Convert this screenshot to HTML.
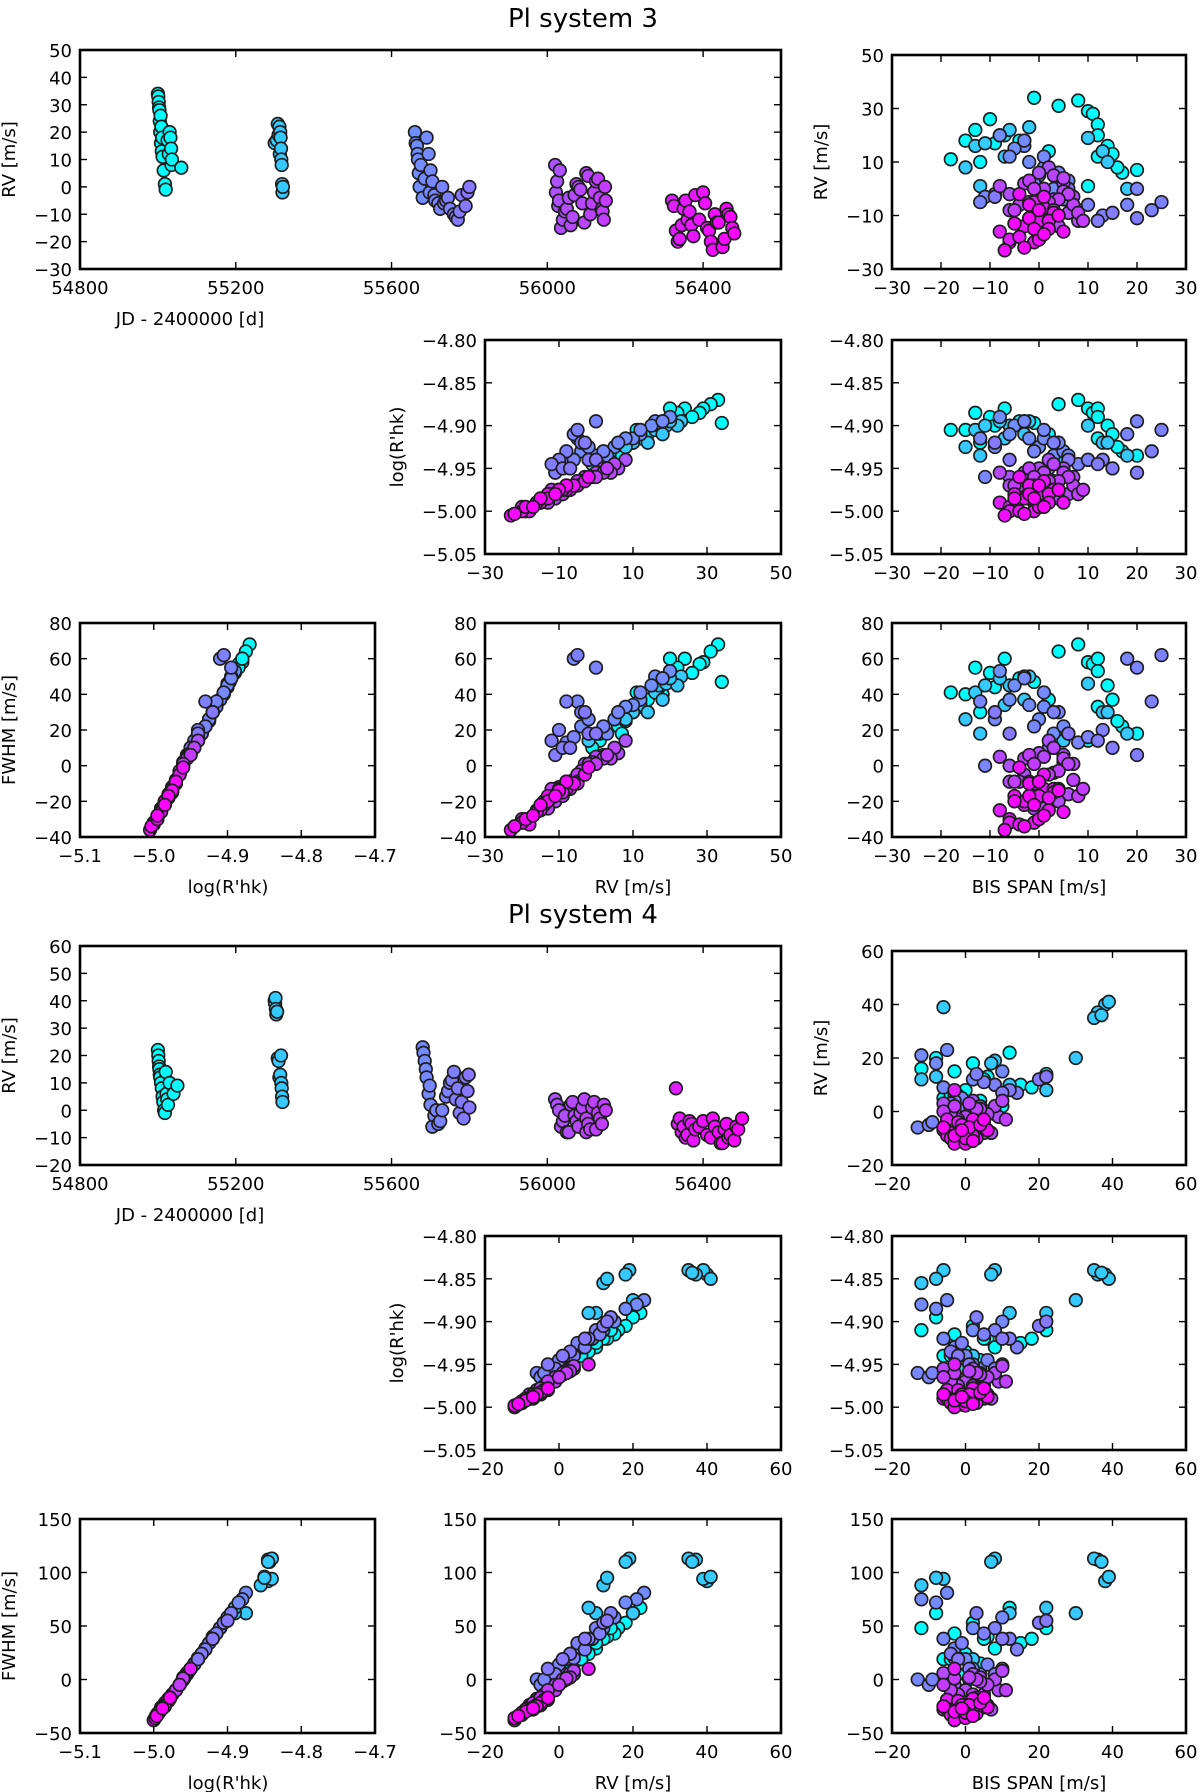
<!DOCTYPE html>
<html><head><meta charset="utf-8"><title>PI systems</title>
<style>
html,body{margin:0;padding:0;background:#fff;}
svg{display:block;font-family:"DejaVu Sans","Liberation Sans",sans-serif;}
</style></head>
<body>
<svg id="fig" width="1200" height="1792" viewBox="0 0 1200 1792" xmlns="http://www.w3.org/2000/svg">
<rect x="0" y="0" width="1200" height="1792" fill="#fff"/>
</svg>
<script>
// ===== System 3 data =====
const t3 = [55000,55002,55004,55005,55006,55008,55010,55012,55015,55018,55020,55030,55032,55034,55036,55060,
  55300,55305,55312,55314,55315,55316,55317,55318,55319,55320,
  55660,55665,55668,55670,55672,55680,55690,55695,55700,55705,55710,55720,55730,55740,55750,55760,55770,55780,55790,55800,
  56020,56025,56030,56040,56050,56060,56070,56080,56090,56100,56110,56120,56130,56140,56145,56150,56035,56105,
  56320,56330,56340,56350,56360,56370,56380,56400,56410,56420,56430,56440,56450,56460,56470,56480];
const rv3 = [34,31,28,24,20,16,13,11,6,1,-1,20,18,14,10,7,
  16,17,22,20,18,14,10,8,1,-2,
  20,15,10,5,0,-4,18,12,6,2,-3,-6,0,-5,-8,-10,-12,-3,-7,0,
  8,2,-5,-12,-8,-14,-3,0,-6,5,-10,-2,3,-8,-12,-5,-15,4,
  -5,-16,-19,-8,-12,-14,-3,-2,-15,-20,-10,-13,-22,-8,-11,-17];
const bis3 = [-1,4,11,12,12,14,15,-18,17,10,3,-7,-4,2,-12,20,
  -13,-11,-6,-8,-3,13,14,-15,-12,5,
  -8,-5,-2,0,3,5,-3,1,4,-1,-11,18,20,25,23,13,12,-9,2,6,
  2,5,-3,8,-6,4,7,1,-4,3,0,6,-2,-5,9,2,-1,5,
  -2,-8,-6,3,0,-3,1,-4,2,-1,4,-5,-3,0,-2,1];
const rhk3 = [-4.897,-4.875,-4.885,-4.88,-4.89,-4.90,-4.91,-4.905,-4.93,-4.94,-4.945,-4.88,-4.895,-4.91,-4.92,-4.935,
  -4.905,-4.90,-4.90,-4.895,-4.91,-4.92,-4.92,-4.925,-4.935,-4.94,
  -4.89,-4.90,-4.915,-4.925,-4.935,-4.93,-4.895,-4.905,-4.92,-4.93,-4.96,-4.91,-4.895,-4.905,-4.93,-4.94,-4.945,-4.92,-4.95,-4.94,
  -4.94,-4.95,-4.965,-4.98,-4.97,-4.985,-4.96,-4.955,-4.97,-4.945,-4.975,-4.96,-4.95,-4.97,-4.975,-4.965,-4.99,-4.955,
  -4.97,-4.99,-5.00,-4.975,-4.98,-4.985,-4.965,-4.96,-4.99,-5.0,-4.975,-4.985,-5.003,-4.97,-4.98,-4.995];
const fwhm3 = [47,64,57,60,53,45,37,41,22,14,10,60,49,37,30,18,
  41,45,45,49,37,30,30,26,18,14,
  53,45,34,26,18,22,49,41,30,22,0,60,55,62,36,20,14,30,10,18,
  14,6,-5,-17,-9,-20,1,5,-9,10,-12,1,6,-9,-13,-5,-24,4,
  -9,-25,-32,-13,-17,-20,-5,-1,-25,-32,-13,-20,-34,-9,-17,-28];
// additional system 3 observations
const t3b = [55001,55003,55007,55009,55011,55025,55028,55035,
  55308,55310,55313,55321,
  55662,55667,55675,55685,55698,55712,55725,55735,55745,55765,55775,55795,
  56022,56028,56045,56055,56065,56075,56085,56095,56115,56125,56135,56142,56148,56032,
  56325,56335,56345,56355,56365,56375,56390,56405,56415,56425,56435,56455,56465,56475];
const rv3b = [33,29,26,22,18,17,12,8,
  23,19,12,0,
  16,12,8,3,-2,-5,-8,-6,-4,-11,-9,-2,
  -2,-7,-9,-4,-11,1,-1,-13,-6,2,-4,-9,0,6,
  -7,-20,-14,-5,-9,-18,-12,-6,-16,-23,-13,-19,-10,-15];
const bis3b = [8,10,-10,-13,-15,-9,12,16,
  -2,10,-7,18,
  -3,-6,1,6,-9,-12,8,10,3,20,15,-6,
  -6,0,6,3,-2,-8,5,1,7,-3,4,8,-1,0,
  1,-6,-3,-1,3,-4,2,-2,5,-7,-5,0,4,-1];
const rhk3b = [-4.87,-4.88,-4.89,-4.885,-4.905,-4.90,-4.915,-4.925,
  -4.895,-4.90,-4.915,-4.935,
  -4.895,-4.91,-4.915,-4.935,-4.925,-4.915,-4.945,-4.94,-4.92,-4.955,-4.95,-4.94,
  -4.96,-4.975,-4.98,-4.965,-4.985,-4.955,-4.96,-4.99,-4.97,-4.955,-4.965,-4.98,-4.96,-4.95,
  -4.975,-4.995,-4.985,-4.97,-4.975,-5.0,-4.98,-4.97,-4.99,-5.005,-4.98,-4.995,-4.975,-4.985];
const fwhm3b = [68,58,52,55,40,44,33,25,
  50,46,34,18,
  50,37,33,18,26,36,13,16,30,6,10,18,
  0,-12,-16,-4,-20,5,2,-24,-8,4,-3,-17,1,7,
  -13,-30,-22,-10,-15,-33,-18,-10,-26,-36,-17,-30,-14,-22];

// ===== System 4 data =====
const t4 = [55000,55002,55004,55006,55008,55010,55012,55014,55016,55018,55020,55030,55040,55050,
  55300,55302,55304,55306,55308,55310,55312,55314,55316,55318,55319,55320,
  55680,55685,55690,55695,55700,55710,55720,55730,55740,55750,55760,55770,55780,55785,55790,55795,55800,55705,
  56020,56030,56040,56050,56060,56070,56080,56090,56100,56110,56120,56130,56140,56150,56055,56095,
  56330,56340,56350,56360,56370,56380,56400,56420,56430,56440,56450,56460,56470,56480,56490,56500];
const rv4 = [22,18,15,12,10,8,5,3,0,-1,14,10,6,9,
  40,41,35,36,19,18,12,13,20,8,5,3,
  23,18,12,6,2,-2,-5,0,5,10,14,8,3,-3,12,7,1,-6,
  4,0,-4,-8,2,-2,-6,1,-3,-7,3,-1,-5,0,-8,4,
  8,-3,-6,-9,-5,-7,-4,-10,-6,-8,-12,-5,-9,-11,-7,-3];
const bis4 = [12,2,-3,5,8,0,-6,3,-2,1,22,15,-4,18,
  38,39,35,37,8,7,-12,-8,30,22,-3,2,
  -5,-8,2,-3,0,4,-10,6,-1,8,3,12,-4,1,20,10,-2,-13,
  2,-3,5,-1,8,0,-5,4,-2,6,1,-4,3,-6,7,10,
  -3,-5,0,2,-1,-6,3,-4,1,-2,0,4,-3,2,-1,5];
const rhk4 = [-4.89,-4.905,-4.915,-4.92,-4.93,-4.935,-4.94,-4.95,-4.955,-4.96,-4.91,-4.925,-4.94,-4.92,
  -4.845,-4.85,-4.84,-4.843,-4.84,-4.845,-4.855,-4.85,-4.875,-4.89,-4.93,-4.94,
  -4.875,-4.885,-4.91,-4.93,-4.94,-4.955,-4.965,-4.945,-4.925,-4.91,-4.895,-4.92,-4.935,-4.95,-4.905,-4.92,-4.94,-4.96,
  -4.955,-4.965,-4.975,-4.985,-4.96,-4.97,-4.98,-4.962,-4.975,-4.985,-4.958,-4.97,-4.978,-4.965,-4.99,-4.952,
  -4.95,-4.98,-4.985,-4.99,-4.985,-4.99,-4.98,-4.995,-4.985,-4.99,-4.998,-4.983,-4.992,-4.996,-4.988,-4.978];
const fwhm4 = [67,53,43,38,29,24,19,10,5,0,48,34,19,38,
  92,96,113,110,113,110,88,95,62,67,29,19,
  81,72,48,29,19,5,-5,14,34,48,62,38,24,10,53,38,19,0,
  5,-5,-14,-24,0,-10,-19,-2,-14,-24,2,-10,-17,-5,-28,8,
  10,-19,-24,-28,-24,-28,-19,-33,-24,-28,-36,-22,-30,-34,-27,-17];
// additional system 4 observations
const t4b = [55001,55003,55005,55022,55024,55026,
  55301,55303,55317,
  55682,55688,55698,55715,55725,55745,55755,55765,55775,55798,
  56025,56035,56045,56065,56075,56085,56105,56115,56125,56135,56145,56100,
  56335,56345,56355,56365,56375,56390,56410,56425,56445,56455,56465,56485];
const rv4b = [20,16,13,6,4,2,
  39,37,10,
  21,15,9,0,-4,7,11,4,-1,13,
  2,-6,-2,3,-4,-1,-5,1,-7,-3,2,-8,
  -5,-8,-10,-4,-11,-6,-9,-3,-12,-7,-10,-6];
const bis4b = [-8,-12,6,-2,4,10,
  -6,36,12,
  -12,10,-6,2,-9,14,5,-3,8,22,
  4,-2,9,-6,2,6,-4,3,0,11,-3,5,
  1,-4,3,-2,-1,5,-5,2,-3,6,0,-6];
const rhk4b = [-4.895,-4.91,-4.92,-4.94,-4.945,-4.95,
  -4.84,-4.845,-4.89,
  -4.88,-4.90,-4.92,-4.95,-4.96,-4.93,-4.915,-4.94,-4.955,-4.90,
  -4.96,-4.98,-4.97,-4.955,-4.975,-4.965,-4.98,-4.96,-4.985,-4.97,-4.96,-4.99,
  -4.985,-4.99,-4.995,-4.98,-4.997,-4.985,-4.99,-4.978,-5.0,-4.988,-4.993,-4.985];
const fwhm4b = [62,48,40,20,15,10,
  94,112,62,
  75,58,38,10,0,28,43,20,5,55,
  2,-18,-10,6,-14,-5,-18,0,-22,-10,1,-26,
  -24,-28,-32,-20,-34,-25,-28,-18,-38,-26,-31,-25];

// ===== tick values =====
const ticksJD = [54800,55200,55600,56000,56400];
const ticksJDminor = [54800,55200,55600,56000,56400,56600];
const ticksRV3time = [-30,-20,-10,0,10,20,30,40,50];
const ticksRV3 = [-30,-10,10,30,50];
const ticksBIS3 = [-30,-20,-10,0,10,20,30];
const ticksRHK = [-5.05,-5.00,-4.95,-4.90,-4.85,-4.80];
const ticksRHKx = [-5.1,-5.0,-4.9,-4.8,-4.7];
const ticksFWHM3 = [-40,-20,0,20,40,60,80];
const ticksRV4time = [-20,-10,0,10,20,30,40,50,60];
const ticksS4 = [-20,0,20,40,60];
const ticksFWHM4 = [-50,0,50,100,150];

const NS = 'http://www.w3.org/2000/svg';
const svg = document.getElementById('fig');
function mk(tag, attrs, parent){
  const e = document.createElementNS(NS, tag);
  for (const k in attrs) e.setAttribute(k, attrs[k]);
  (parent||svg).appendChild(e);
  return e;
}
function fmt(v, dec){
  const s = Math.abs(v).toFixed(dec);
  return (v < 0 ? '\u2212' : '') + s;
}
function cool(t){
  let c = (t - 55000) / 1500; c = Math.max(0, Math.min(1, c));
  return 'rgb(' + Math.round(c*255) + ',' + Math.round((1-c)*255) + ',255)';
}

function panel(p){
  const g = mk('g', {});
  
  
  const sx = v => p.x0 + (v - p.xmin) / (p.xmax - p.xmin) * (p.x1 - p.x0);
  const sy = v => p.y1 - (v - p.ymin) / (p.ymax - p.ymin) * (p.y1 - p.y0);
  const pg = mk('g', {}, g);
  
  
  const idx = p.xs.map((_, i) => i).sort((a, b) => p.ts[a] - p.ts[b]);
  idx.forEach(i => {
    const c = mk('circle', {cx: sx(p.xs[i]).toFixed(1), cy: sy(p.ys[i]).toFixed(1), r: 6.3,
      fill: cool(p.ts[i]), stroke: '#1e1e1e', 'stroke-width': 1.7}, pg);
    
    
  });
  const tg = mk('g', {stroke: '#000', 'stroke-width': 1.4}, g);
  
  
  const L = 7;
  p.xt.forEach(v => {
    const x = sx(v);
    mk('line', {x1: x, x2: x, y1: p.y1, y2: p.y1 - L}, tg);
    mk('line', {x1: x, x2: x, y1: p.y0, y2: p.y0 + L}, tg);
  });
  p.yt.forEach(v => {
    const y = sy(v);
    mk('line', {x1: p.x0, x2: p.x0 + L, y1: y, y2: y}, tg);
    mk('line', {x1: p.x1, x2: p.x1 - L, y1: y, y2: y}, tg);
  });
  const fr = mk('rect', {x: p.x0, y: p.y0, width: p.x1 - p.x0, height: p.y1 - p.y0, fill: 'none', stroke: '#000', 'stroke-width': 2.6}, g);
  
  
  p.xl.forEach(v => {
    const tx = mk('text', {x: sx(v), y: p.y1 + 25, 'text-anchor': 'middle', 'font-size': 18, fill: '#000'}, g);
    
    
    tx.textContent = fmt(v, p.xdec);
  });
  p.yl.forEach(v => {
    const tx = mk('text', {x: p.x0 - 8, y: sy(v) + 7, 'text-anchor': 'end', 'font-size': 18, fill: '#000'}, g);
    
    
    tx.textContent = fmt(v, p.ydec);
  });
  if (p.xlabel){
    const tx = mk('text', {x: p.xlabX, y: p.y1 + 56, 'text-anchor': 'middle', 'font-size': 18, fill: '#000'}, g);
    
    
    tx.textContent = p.xlabel;
  }
  if (p.ylabel){
    const cy = (p.y0 + p.y1) / 2;
    const tx = mk('text', {x: p.ylabX, y: cy, 'text-anchor': 'middle', 'font-size': 18, fill: '#000',
      transform: 'rotate(-90 ' + p.ylabX + ' ' + cy + ')'}, g);
    
    
    tx.textContent = p.ylabel;
  }
}

function system(off, num, D){
  const title = mk('text', {x: 583, y: 27 + off, 'text-anchor': 'middle', 'font-size': 26, fill: '#000'});
  
  
  title.textContent = 'Pl system ' + num;
  const s3 = num === 3;
  panel({name: 's' + num + '-rv-time', x0: 80, x1: 781, y0: 50 + off, y1: 269 + off,
    xmin: 54800, xmax: 56600, ymin: s3 ? -30 : -20, ymax: s3 ? 50 : 60,
    xs: D.t, ys: D.rv, ts: D.t, xt: ticksJDminor, yt: s3 ? ticksRV3time : ticksRV4time,
    xl: ticksJD, yl: s3 ? ticksRV3time : ticksRV4time, xdec: 0, ydec: 0,
    xlabel: 'JD - 2400000 [d]', xlabX: 190, ylabel: 'RV [m/s]', ylabX: 15});
  panel({name: 's' + num + '-rv-bis', x0: 892, x1: 1186, y0: 55 + off, y1: 269 + off,
    xmin: s3 ? -30 : -20, xmax: s3 ? 30 : 60, ymin: s3 ? -30 : -20, ymax: s3 ? 50 : 60,
    xs: D.bis, ys: D.rv, ts: D.t, xt: s3 ? ticksBIS3 : ticksS4, yt: s3 ? ticksRV3 : ticksS4,
    xl: s3 ? ticksBIS3 : ticksS4, yl: s3 ? ticksRV3 : ticksS4, xdec: 0, ydec: 0,
    ylabel: 'RV [m/s]', ylabX: 827});
  panel({name: 's' + num + '-rhk-rv', x0: 485, x1: 781, y0: 340 + off, y1: 554 + off,
    xmin: s3 ? -30 : -20, xmax: s3 ? 50 : 60, ymin: -5.05, ymax: -4.80,
    xs: D.rv, ys: D.rhk, ts: D.t, xt: s3 ? ticksRV3 : ticksS4, yt: ticksRHK,
    xl: s3 ? ticksRV3 : ticksS4, yl: ticksRHK, xdec: 0, ydec: 2,
    ylabel: "log(R'hk)", ylabX: 403});
  panel({name: 's' + num + '-rhk-bis', x0: 892, x1: 1186, y0: 340 + off, y1: 554 + off,
    xmin: s3 ? -30 : -20, xmax: s3 ? 30 : 60, ymin: -5.05, ymax: -4.80,
    xs: D.bis, ys: D.rhk, ts: D.t, xt: s3 ? ticksBIS3 : ticksS4, yt: ticksRHK,
    xl: s3 ? ticksBIS3 : ticksS4, yl: ticksRHK, xdec: 0, ydec: 2});
  const fy = s3 ? [-40, 80] : [-50, 150];
  const ft = s3 ? ticksFWHM3 : ticksFWHM4;
  panel({name: 's' + num + '-fwhm-rhk', x0: 80, x1: 375, y0: 623 + off, y1: 837 + off,
    xmin: -5.1, xmax: -4.7, ymin: fy[0], ymax: fy[1],
    xs: D.rhk, ys: D.fwhm, ts: D.t, xt: ticksRHKx, yt: ft, xl: ticksRHKx, yl: ft, xdec: 1, ydec: 0,
    xlabel: "log(R'hk)", xlabX: 228, ylabel: 'FWHM [m/s]', ylabX: 15});
  panel({name: 's' + num + '-fwhm-rv', x0: 485, x1: 781, y0: 623 + off, y1: 837 + off,
    xmin: s3 ? -30 : -20, xmax: s3 ? 50 : 60, ymin: fy[0], ymax: fy[1],
    xs: D.rv, ys: D.fwhm, ts: D.t, xt: s3 ? ticksRV3 : ticksS4, yt: ft,
    xl: s3 ? ticksRV3 : ticksS4, yl: ft, xdec: 0, ydec: 0,
    xlabel: 'RV [m/s]', xlabX: 633});
  panel({name: 's' + num + '-fwhm-bis', x0: 892, x1: 1186, y0: 623 + off, y1: 837 + off,
    xmin: s3 ? -30 : -20, xmax: s3 ? 30 : 60, ymin: fy[0], ymax: fy[1],
    xs: D.bis, ys: D.fwhm, ts: D.t, xt: s3 ? ticksBIS3 : ticksS4, yt: ft,
    xl: s3 ? ticksBIS3 : ticksS4, yl: ft, xdec: 0, ydec: 0,
    xlabel: 'BIS SPAN [m/s]', xlabX: 1039});
}

system(0, 3, {t: t3.concat(t3b), rv: rv3.concat(rv3b), bis: bis3.concat(bis3b), rhk: rhk3.concat(rhk3b), fwhm: fwhm3.concat(fwhm3b)});
system(896, 4, {t: t4.concat(t4b), rv: rv4.concat(rv4b), bis: bis4.concat(bis4b), rhk: rhk4.concat(rhk4b), fwhm: fwhm4.concat(fwhm4b)});
</script>
</body></html>
